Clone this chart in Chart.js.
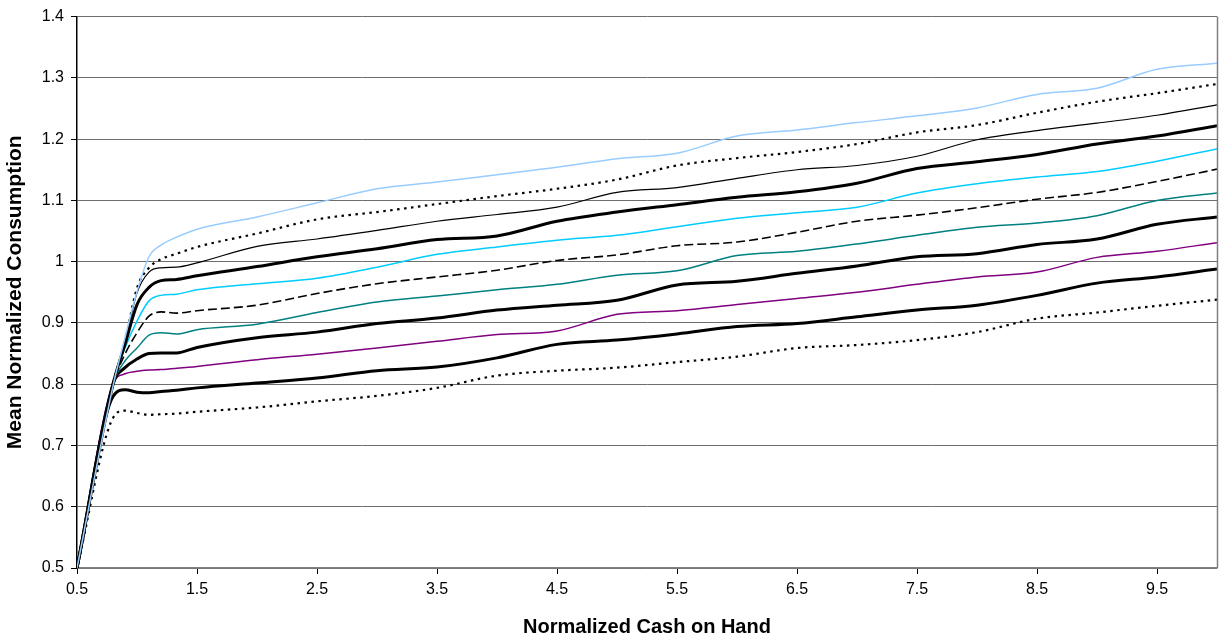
<!DOCTYPE html>
<html lang="en">
  <head>
    <meta charset="UTF-8" />
    <title>Mean Normalized Consumption</title>
    <script src="https://cdn.jsdelivr.net/npm/chart.js@4.4.1/dist/chart.umd.min.js"></script>
    <style>
      body { margin: 0; background: #fff; }
      .wrap { width: 1226px; height: 641px; position: relative; }
    </style>
  </head>
  <body>
    <div class="wrap"><canvas id="consumption"></canvas></div>
    <script>
      // cash on hand (x) where the curves were read
      const cash = [0.5, 0.8, 0.9, 1.0, 1.1, 1.2, 1.33, 1.5, 2, 2.5, 3, 3.5, 4, 4.5, 5, 5.5, 6, 6.5, 7, 7.5, 8, 8.5, 9, 9.5, 10];

      const xTicks = [0.5, 1.5, 2.5, 3.5, 4.5, 5.5, 6.5, 7.5, 8.5, 9.5];
      const yTicks = [0.5, 0.6, 0.7, 0.8, 0.9, 1, 1.1, 1.2, 1.3, 1.4];

      // curves, top to bottom
      const lightBlue = [0.5, 0.797, 0.876, 0.951, 1.008, 1.027, 1.040, 1.053, 1.073, 1.096, 1.119, 1.130, 1.142, 1.154, 1.168, 1.177, 1.205, 1.215, 1.227, 1.238, 1.251, 1.273, 1.283, 1.314, 1.324];
      const dottedTop = [0.5, 0.8, 0.870, 0.957, 0.990, 1.004, 1.013, 1.024, 1.046, 1.069, 1.081, 1.094, 1.107, 1.119, 1.134, 1.157, 1.169, 1.179, 1.192, 1.211, 1.223, 1.243, 1.261, 1.275, 1.290];
      const thinBlack = [0.5, 0.8, 0.868, 0.949, 0.983, 0.990, 0.991, 0.998, 1.025, 1.037, 1.051, 1.066, 1.077, 1.089, 1.113, 1.121, 1.136, 1.150, 1.157, 1.172, 1.199, 1.214, 1.226, 1.239, 1.256];
      const thickBlackA = [0.5, 0.8, 0.865, 0.930, 0.958, 0.969, 0.971, 0.977, 0.992, 1.008, 1.021, 1.036, 1.042, 1.066, 1.081, 1.093, 1.105, 1.114, 1.128, 1.152, 1.163, 1.175, 1.192, 1.205, 1.222];
      const cyan = [0.5, 0.8, 0.859, 0.903, 0.936, 0.945, 0.947, 0.954, 0.964, 0.973, 0.991, 1.012, 1.024, 1.035, 1.043, 1.057, 1.071, 1.080, 1.089, 1.112, 1.127, 1.138, 1.147, 1.164, 1.184];
      const dashed = [0.5, 0.8, 0.849, 0.884, 0.911, 0.918, 0.916, 0.920, 0.929, 0.948, 0.964, 0.975, 0.986, 1.002, 1.011, 1.026, 1.032, 1.048, 1.066, 1.076, 1.088, 1.102, 1.113, 1.131, 1.151];
      const teal = [0.5, 0.8, 0.838, 0.859, 0.880, 0.884, 0.882, 0.889, 0.898, 0.917, 0.934, 0.944, 0.954, 0.963, 0.978, 0.985, 1.010, 1.017, 1.029, 1.043, 1.056, 1.063, 1.075, 1.100, 1.112];
      const thickBlackB = [0.5, 0.8, 0.827, 0.841, 0.850, 0.851, 0.851, 0.860, 0.876, 0.885, 0.899, 0.908, 0.921, 0.929, 0.937, 0.962, 0.968, 0.981, 0.993, 1.008, 1.013, 1.028, 1.037, 1.061, 1.073];
      const purple = [0.5, 0.8, 0.817, 0.821, 0.823, 0.824, 0.826, 0.829, 0.840, 0.849, 0.859, 0.870, 0.881, 0.887, 0.914, 0.920, 0.930, 0.940, 0.950, 0.963, 0.975, 0.983, 1.007, 1.017, 1.031];
      const thickBlackC = [0.5, 0.78, 0.791, 0.787, 0.786, 0.788, 0.790, 0.794, 0.802, 0.810, 0.822, 0.828, 0.843, 0.865, 0.872, 0.882, 0.894, 0.899, 0.910, 0.921, 0.929, 0.945, 0.965, 0.975, 0.988];
      const dottedBottom = [0.5, 0.745, 0.757, 0.753, 0.750, 0.751, 0.752, 0.755, 0.762, 0.772, 0.781, 0.794, 0.814, 0.822, 0.827, 0.836, 0.845, 0.859, 0.864, 0.872, 0.885, 0.907, 0.917, 0.928, 0.938];

      function pts(values) {
        return cash.map((x, i) => ({ x: x, y: values[i] }));
      }

      function line(values, color, width, dash) {
        return {
          data: pts(values),
          borderColor: color,
          borderWidth: width,
          borderDash: dash || [],
          pointRadius: 0,
          fill: false,
          cubicInterpolationMode: "monotone",
        };
      }

      const dot = [2.5, 4.5];
      const font = "Liberation Sans, Arial, sans-serif";

      // right edge of the plot area
      const plotBorder = {
        id: "plotBorder",
        afterDraw(chart) {
          const a = chart.chartArea;
          const ctx = chart.ctx;
          ctx.save();
          ctx.strokeStyle = "#808080";
          ctx.lineWidth = 1.5;
          ctx.beginPath();
          ctx.moveTo(a.right + 0.5, a.top);
          ctx.lineTo(a.right + 0.5, a.bottom);
          ctx.stroke();
          ctx.restore();
        },
      };

      new Chart("consumption", {
        type: "line",
        data: {
          datasets: [
            line(lightBlue, "#99CCFF", 1.5),
            line(dottedTop, "#000", 2.2, dot),
            line(thinBlack, "#000", 1.2),
            line(thickBlackA, "#000", 3),
            line(cyan, "#00CCFF", 1.5),
            line(dashed, "#000", 1.6, [9, 4]),
            line(teal, "#008080", 1.5),
            line(thickBlackB, "#000", 3),
            line(purple, "#800080", 1.5),
            line(thickBlackC, "#000", 3),
            line(dottedBottom, "#000", 2.2, dot),
          ],
        },
        options: {
          responsive: true,
          maintainAspectRatio: false,
          animation: false,
          layout: { padding: { top: 12, right: 9, left: 0, bottom: 0 } },
          plugins: { legend: { display: false }, tooltip: { enabled: false } },
          scales: {
            x: {
              type: "linear",
              min: 0.5,
              max: 10,
              afterBuildTicks: (s) => { s.ticks = xTicks.map((v) => ({ value: v })); },
              afterFit: (s) => { s.height = 73; },
              grid: { color: "transparent", tickColor: "#000", tickLength: 6, drawTicks: true },
              border: { color: "#808080", width: 1.5 },
              ticks: { color: "#000", font: { family: font, size: 16 }, padding: 6, maxRotation: 0, callback: (v) => v },
              title: { display: true, text: "Normalized Cash on Hand", color: "#000", font: { family: font, size: 20, weight: "bold" }, padding: { top: 2, bottom: 2 } },
            },
            y: {
              min: 0.5,
              max: 1.4,
              afterBuildTicks: (s) => { s.ticks = yTicks.map((v) => ({ value: v })); },
              afterFit: (s) => { s.width = 77; },
              grid: { color: "#6e6e6e", lineWidth: 1, tickColor: "#000", tickLength: 6 },
              border: { color: "#000", width: 1.5 },
              ticks: { color: "#000", font: { family: font, size: 16 }, padding: 7, callback: (v) => v },
              title: { display: true, text: "Mean Normalized Consumption", color: "#000", font: { family: font, size: 21, weight: "bold" }, padding: { top: 3, bottom: 2 } },
            },
          },
        },
        plugins: [plotBorder],
      });
    </script>
  </body>
</html>
